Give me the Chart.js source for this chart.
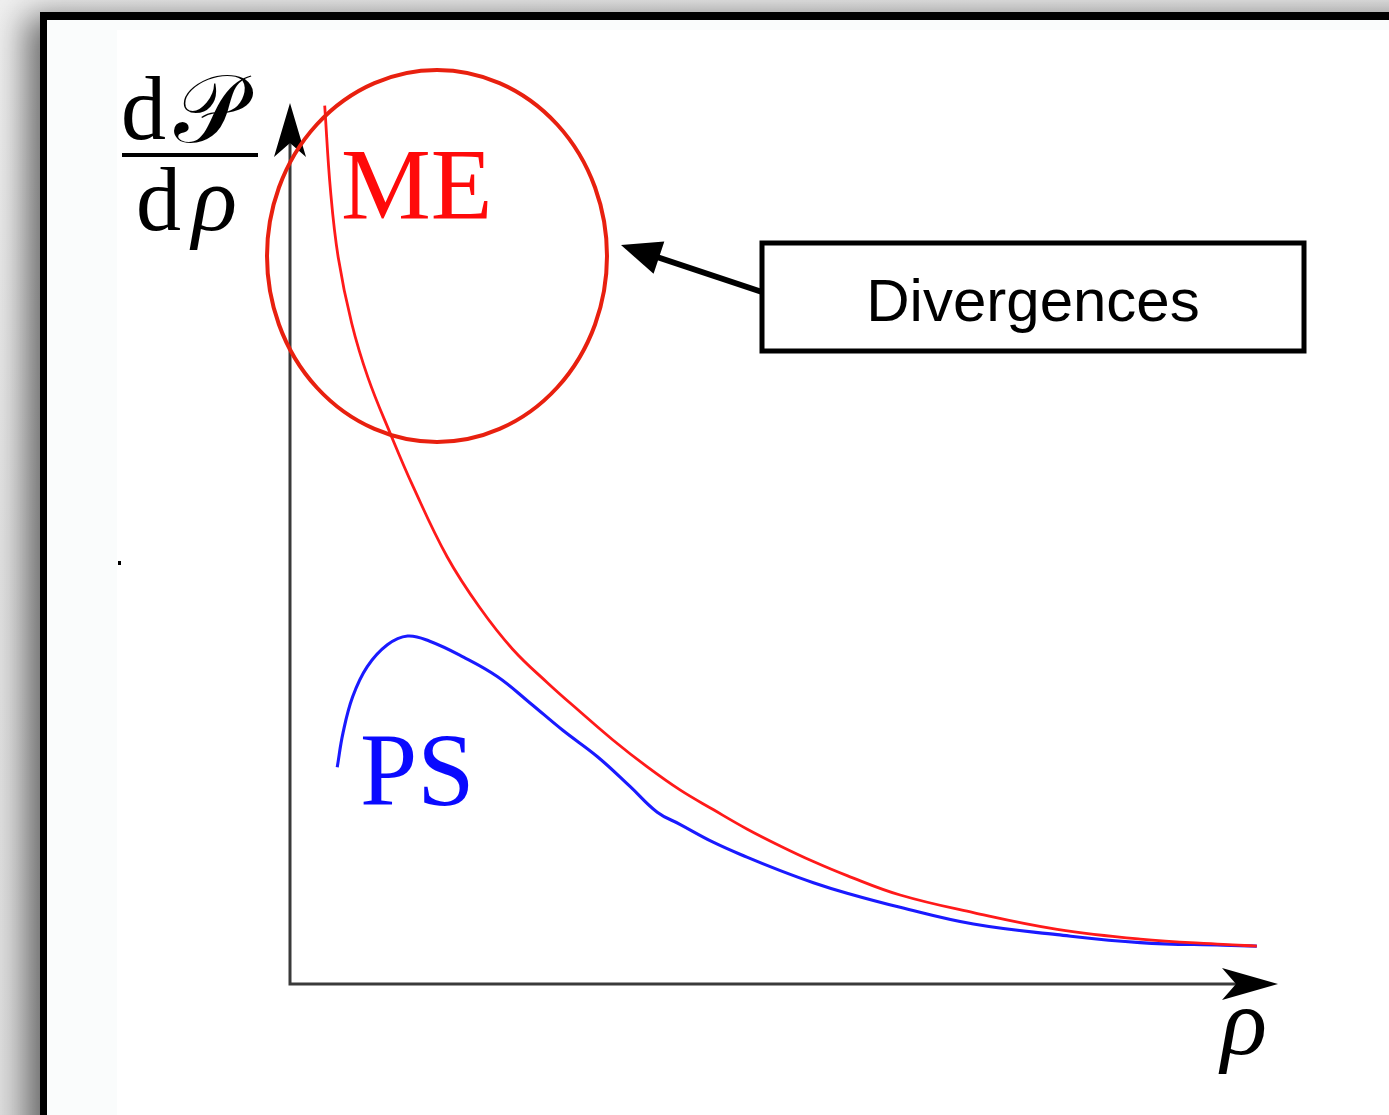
<!DOCTYPE html>
<html>
<head>
<meta charset="utf-8">
<title>dP/dρ</title>
<script src="https://cdn.jsdelivr.net/npm/chart.js@4.4.1/dist/chart.umd.min.js"></script>
<style>
  html, body { margin: 0; padding: 0; }
  body {
    width: 1389px; height: 1115px; overflow: hidden; position: relative;
    background: linear-gradient(170deg, #f0f0f0 0%, #e4e4e4 40%, #dedede 100%);
  }
  #frame {
    position: absolute; left: 40px; top: 12px; width: 1420px; height: 1200px;
    border-left: 7px solid #000; border-top: 8px solid #000;
    background: #fafcfc;
    box-shadow: -14px 4px 32px rgba(0, 0, 0, 0.55);
  }
  #paper { position: absolute; left: 70px; top: 10px; right: 0; bottom: 0; background: #fff; }
  #chart { position: absolute; left: 0; top: 0; }
</style>
</head>
<body>
<div id="frame"><div id="paper"></div></div>
<canvas id="chart" width="1389" height="1115"></canvas>
<script>
// ME curve (diverges at small rho)
const meRho     = [0.36, 0.42, 0.50, 0.64, 0.81, 1.04, 1.28, 1.63, 1.97, 2.31, 2.67, 3.01, 3.35, 3.70, 4.05, 4.39, 4.74, 5.08, 5.43, 5.78, 6.33, 7.09, 7.96, 8.82, 9.68, 10.03];
const meDensity = [9.97, 9.01, 8.25, 7.50, 6.88, 6.25, 5.64, 4.85, 4.27, 3.80, 3.42, 3.09, 2.77, 2.47, 2.20, 1.98, 1.76, 1.57, 1.39, 1.23, 1.01, 0.81, 0.62, 0.51, 0.45, 0.43];

// PS curve (Sudakov-suppressed peak)
const psRho     = [0.49, 0.55, 0.65, 0.80, 1.01, 1.22, 1.45, 1.80, 2.15, 2.49, 2.83, 3.19, 3.53, 3.81, 4.05, 4.39, 4.74, 5.08, 5.43, 5.78, 6.33, 7.09, 7.96, 8.82, 9.68, 10.03];
const psDensity = [2.46, 2.85, 3.26, 3.60, 3.85, 3.95, 3.89, 3.71, 3.49, 3.19, 2.88, 2.58, 2.24, 1.95, 1.81, 1.61, 1.44, 1.29, 1.15, 1.03, 0.87, 0.68, 0.56, 0.47, 0.44, 0.43];

const rhoMax = 10.25;
const densityMax = 10;

const toPoints = (xs, ys) => xs.map((v, i) => ({ x: v, y: ys[i] }));

// LaTeX-style arrow head (concave back)
function arrowHead(ctx, tx, ty, ang, len, half, notch) {
  const dx = Math.cos(ang), dy = Math.sin(ang);
  const nx = -dy, ny = dx;
  ctx.beginPath();
  ctx.moveTo(tx, ty);
  ctx.lineTo(tx - len * dx + half * nx, ty - len * dy + half * ny);
  ctx.lineTo(tx - (len - notch) * dx, ty - (len - notch) * dy);
  ctx.lineTo(tx - len * dx - half * nx, ty - len * dy - half * ny);
  ctx.closePath();
  ctx.fill();
}

const overlay = {
  id: 'overlay',
  beforeDatasetsDraw(chart) {
    const { ctx, scales: { x, y } } = chart;
    const x0 = x.getPixelForValue(0), y0 = y.getPixelForValue(0);
    const xEnd = x.getPixelForValue(rhoMax), yEnd = y.getPixelForValue(densityMax);
    ctx.save();
    // axes
    ctx.strokeStyle = '#3a3a3a';
    ctx.lineWidth = 3;
    ctx.beginPath();
    ctx.moveTo(x0, yEnd + 30);
    ctx.lineTo(x0, y0);
    ctx.lineTo(xEnd - 30, y0);
    ctx.stroke();
    ctx.fillStyle = '#000';
    arrowHead(ctx, x0, yEnd, -Math.PI / 2, 54, 16, 14);
    arrowHead(ctx, xEnd, y0, 0, 56, 16, 14);
    ctx.restore();
  },
  afterDraw(chart) {
    const { ctx } = chart;
    ctx.save();

    // y-axis label: dP / dρ
    ctx.fillStyle = '#000';
    ctx.textBaseline = 'alphabetic';
    ctx.font = '90px "Liberation Serif"';
    ctx.fillText('d', 121, 139);
    ctx.fillText('d', 136, 230);
    ctx.font = '96px "DejaVu Serif", "DejaVu Sans", "Liberation Serif"';
    ctx.fillText('𝒫', 174, 142);
    ctx.font = 'italic 94px "Liberation Serif"';
    ctx.fillText('ρ', 192, 230);
    ctx.fillRect(122, 153, 136, 4);

    // x-axis label
    ctx.font = 'italic 96px "Liberation Serif"';
    ctx.fillText('ρ', 1221, 1054);

    // series labels
    ctx.font = '101px "Liberation Serif"';
    ctx.fillStyle = '#ff0a0a';
    ctx.fillText('ME', 341, 219);
    ctx.font = '103px "Liberation Serif"';
    ctx.fillStyle = '#0a0aff';
    ctx.fillText('PS', 360, 805);

    // ellipse around the divergent region
    ctx.strokeStyle = '#e8200f';
    ctx.lineWidth = 4;
    ctx.beginPath();
    ctx.ellipse(437, 256, 170, 186, 0, 0, Math.PI * 2);
    ctx.stroke();

    // callout box
    ctx.strokeStyle = '#000';
    ctx.lineWidth = 5;
    ctx.strokeRect(762, 243, 542, 108);
    ctx.fillStyle = '#000';
    ctx.font = '60px "Liberation Sans"';
    ctx.textAlign = 'center';
    ctx.fillText('Divergences', 1033, 321);

    // callout arrow
    const tx = 621, ty = 245, sx = 762, sy = 292;
    const ang = Math.atan2(ty - sy, tx - sx);
    ctx.lineWidth = 6;
    ctx.beginPath();
    ctx.moveTo(sx, sy);
    ctx.lineTo(tx - 30 * Math.cos(ang), ty - 30 * Math.sin(ang));
    ctx.stroke();
    ctx.beginPath();
    const dx = Math.cos(ang), dy = Math.sin(ang), nx = -dy, ny = dx;
    ctx.moveTo(tx, ty);
    ctx.lineTo(tx - 40 * dx + 17 * nx, ty - 40 * dy + 17 * ny);
    ctx.lineTo(tx - 40 * dx - 17 * nx, ty - 40 * dy - 17 * ny);
    ctx.closePath();
    ctx.fill();

    // stray dot on the page
    ctx.fillRect(118, 561, 3, 4);
    ctx.restore();
  }
};

new Chart(document.getElementById('chart'), {
  type: 'line',
  data: {
    datasets: [
      {
        label: 'ME',
        data: toPoints(meRho, meDensity),
        borderColor: '#ff1a1a',
        borderWidth: 2.8,
        pointRadius: 0,
        tension: 0.4,
        clip: false
      },
      {
        label: 'PS',
        data: toPoints(psRho, psDensity),
        borderColor: '#1a1aff',
        borderWidth: 3.1,
        pointRadius: 0,
        tension: 0.4,
        clip: false
      }
    ]
  },
  options: {
    responsive: false,
    animation: false,
    layout: { padding: { left: 290, right: 111, top: 103, bottom: 131 } },
    scales: {
      x: { type: 'linear', min: 0, max: rhoMax, display: false },
      y: { min: 0, max: densityMax, display: false }
    },
    plugins: {
      legend: { display: false },
      tooltip: { enabled: false }
    }
  },
  plugins: [overlay]
});
</script>
</body>
</html>
